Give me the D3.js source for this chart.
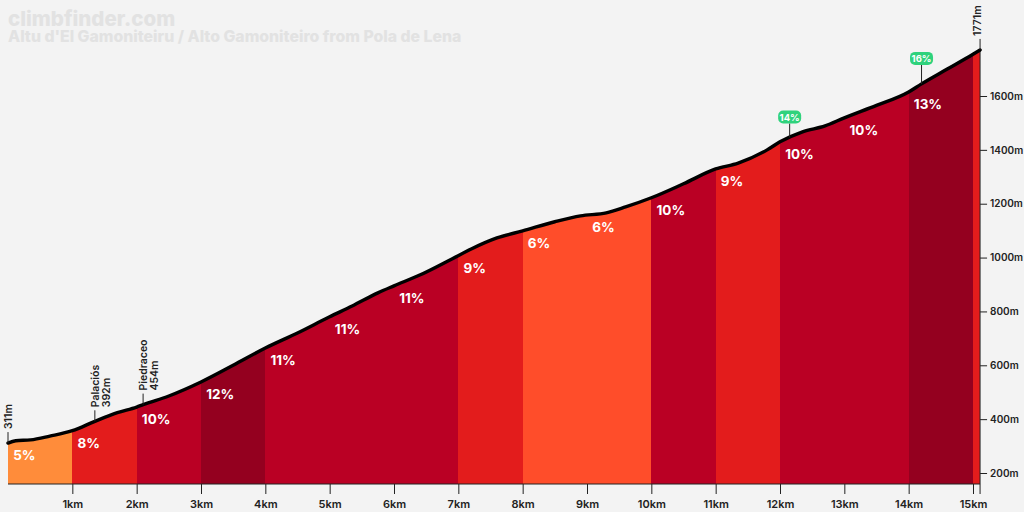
<!DOCTYPE html>
<html>
<head>
<meta charset="utf-8">
<script src="https://cdn.jsdelivr.net/npm/d3@7"></script>
<style>
  html, body { margin: 0; padding: 0; background: #f3f3f3; overflow: hidden; }
  text { font-family: Inter, "Noto Sans", sans-serif; }
</style>
</head>
<body>
<svg id="chart" width="1024" height="512"></svg>
<script>
// profile
var distances = [0, 0.12, 0.35, 0.65, 1, 1.35, 1.7, 2, 2.1, 2.5, 3, 3.5, 4, 4.5, 5, 5.35, 5.75, 6, 6.4, 6.9, 7.2, 7.6, 8, 8.5, 8.9, 9.3, 9.6, 10, 10.5, 11, 11.35, 11.8, 12, 12.35, 12.7, 13, 13.5, 14, 14.2, 14.6, 15, 15.11];
var elevations = [311, 320, 323, 337, 357, 392, 424, 445, 454, 486, 538, 600, 664, 720, 780, 820, 869, 895, 935, 995, 1032, 1073, 1099, 1133, 1155, 1166, 1188, 1222, 1274, 1329, 1351, 1400, 1430, 1467, 1489, 1519, 1565, 1615, 1645, 1700, 1755, 1771];

var segmentStart = [0, 1, 2, 3, 4, 5, 6, 7, 8, 9, 10, 11, 12, 13, 14, 15];
var segmentEnd = [1, 2, 3, 4, 5, 6, 7, 8, 9, 10, 11, 12, 13, 14, 15, 15.11];
var segmentGrade = [5, 8, 10, 12, 11, 11, 11, 9, 6, 6, 10, 9, 10, 10, 13, 9];
var segmentColor = ["#ff8c3a", "#e31c1c", "#ba0024", "#94001f", "#ba0024", "#ba0024", "#ba0024", "#e31c1c", "#ff4d2a", "#ff4d2a", "#ba0024", "#e31c1c", "#ba0024", "#ba0024", "#94001f", "#e31c1c"];

var xTicks = [1, 2, 3, 4, 5, 6, 7, 8, 9, 10, 11, 12, 13, 14, 15];
var yTicks = [200, 400, 600, 800, 1000, 1200, 1400, 1600];

var placeKm = [1.35, 2.1];
var placeName = ["Palaciós", "Piedraceo"];
var placeHeight = ["392m", "454m"];

var steepKm = [12.15, 14.2];
var steepLabel = ["14%", "16%"];

var svg = d3.select("#chart");
var ink = "#222";

var x = d3.scaleLinear().domain([0, 15]).range([8, 973]);
var y = d3.scaleLinear().domain([200, 1600]).range([473, 96]);
var baseY = 484;
var xEnd = x(15.11);

function elevAt(km) {
  var i = d3.bisectRight(distances, km);
  if (i <= 0) return elevations[0];
  if (i >= distances.length) return elevations[elevations.length - 1];
  var t = (km - distances[i - 1]) / (distances[i] - distances[i - 1]);
  return elevations[i - 1] + t * (elevations[i] - elevations[i - 1]);
}

var profile = distances.map(function (d, i) { return [d, elevations[i]]; });

var area = d3.area()
  .x(function (d) { return x(d[0]); })
  .y0(baseY)
  .y1(function (d) { return y(d[1]); })
  .curve(d3.curveMonotoneX);

var line = d3.line()
  .x(function (d) { return x(d[0]); })
  .y(function (d) { return y(d[1]); })
  .curve(d3.curveMonotoneX);

svg.append("clipPath").attr("id", "profile-clip")
  .append("path").attr("d", area(profile));

// title
svg.append("text").attr("x", 8).attr("y", 26)
  .attr("font-size", 20.5).attr("font-weight", 800).attr("fill", "#e2e2e2")
  .text("climbfinder.com");
svg.append("text").attr("x", 8).attr("y", 42)
  .attr("font-size", 15.8).attr("font-weight", 800).attr("fill", "#e2e2e2")
  .text("Altu d'El Gamoniteiru / Alto Gamoniteiro from Pola de Lena");

// coloured km segments
svg.append("g").attr("clip-path", "url(#profile-clip)")
  .selectAll("rect").data(segmentStart).join("rect")
  .attr("x", function (d) { return x(d); })
  .attr("width", function (d, i) { return x(segmentEnd[i]) - x(d); })
  .attr("y", 0)
  .attr("height", baseY)
  .attr("shape-rendering", "crispEdges")
  .attr("fill", function (d, i) { return segmentColor[i]; });

// axes
var xAxis = d3.axisBottom(x).tickValues(xTicks).tickSize(10).tickPadding(6)
  .tickFormat(function (d) { return d + "km"; });
var xAxisG = svg.append("g").attr("transform", "translate(0," + baseY + ")").call(xAxis);
xAxisG.select(".domain").remove();
xAxisG.append("line").attr("x1", x(0)).attr("x2", xEnd).attr("stroke", ink);
xAxisG.append("line").attr("x1", xEnd).attr("x2", xEnd).attr("y2", 10).attr("stroke", ink);

var yAxis = d3.axisRight(y).tickValues(yTicks).tickSize(7).tickPadding(3)
  .tickFormat(function (d) { return d + "m"; });
var yAxisG = svg.append("g").attr("transform", "translate(" + xEnd + ",0)").call(yAxis);
yAxisG.select(".domain").remove();
yAxisG.append("line").attr("y1", y(1771)).attr("y2", baseY).attr("stroke", ink);

svg.selectAll(".tick line").attr("stroke", ink);
xAxisG.selectAll(".tick text")
  .attr("font-size", 11).attr("font-weight", 600).attr("fill", ink);
yAxisG.selectAll(".tick text")
  .attr("font-size", 10).attr("font-weight", 600).attr("fill", ink);

// profile line
svg.append("path").attr("d", line(profile))
  .attr("fill", "none").attr("stroke", "#000").attr("stroke-width", 3.4)
  .attr("stroke-linecap", "round");

// grade labels
svg.append("g").selectAll("text").data(segmentStart.slice(0, 15)).join("text")
  .attr("x", function (d) { return x(d + 0.08); })
  .attr("y", function (d) { return y(elevAt(d)) + 17; })
  .attr("font-size", 13.5).attr("font-weight", 700).attr("fill", "#fff")
  .text(function (d, i) { return segmentGrade[i] + "%"; });

// vertical callouts
function leader(km, len) {
  var py = y(elevAt(km));
  svg.append("line").attr("x1", x(km)).attr("x2", x(km))
    .attr("y1", py).attr("y2", py - len).attr("stroke", ink);
  return py - len;
}
function vText(px, py, str) {
  svg.append("text").attr("transform", "translate(" + px + "," + py + ") rotate(-90)")
    .attr("font-size", 10.5).attr("font-weight", 600).attr("fill", ink).text(str);
}

vText(x(0) + 4, leader(0, 11) - 3, elevations[0] + "m");
vText(x(15.11) + 1, leader(15.11, 11) - 3, elevations[elevations.length - 1] + "m");

placeKm.forEach(function (km, i) {
  var top = leader(km, 11) - 3;
  vText(x(km) + 4, top, placeName[i]);
  vText(x(km) + 15, top, placeHeight[i]);
});

// steepest-section badges
steepKm.forEach(function (km, i) {
  var top = leader(km, 14 + i * 5);
  svg.append("rect").attr("x", x(km) - 11.5).attr("y", top - 13)
    .attr("width", 23).attr("height", 13).attr("rx", 5).attr("fill", "#2fd27c");
  svg.append("text").attr("x", x(km)).attr("y", top - 3)
    .attr("text-anchor", "middle").attr("font-size", 9.5).attr("font-weight", 700)
    .attr("fill", "#fff").text(steepLabel[i]);
});
</script>
</body>
</html>
